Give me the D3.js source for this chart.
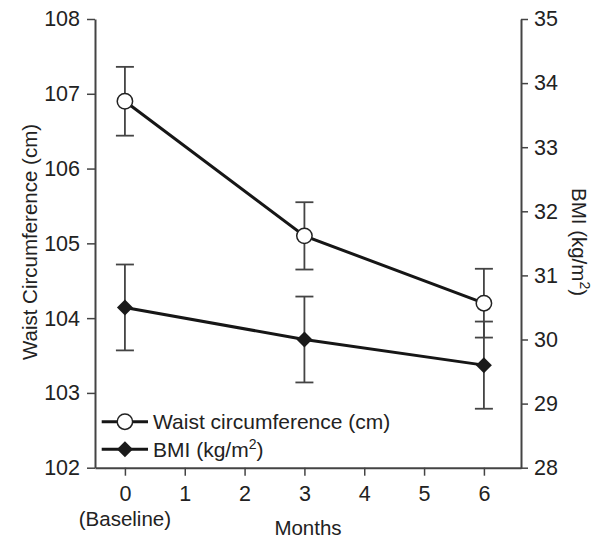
<!DOCTYPE html>
<html>
<head>
<meta charset="utf-8">
<script src="https://cdn.jsdelivr.net/npm/d3@7"></script>
<style>
  body { margin: 0; background: #fff; }
  svg text { font-family: "Liberation Sans", Arial, Helvetica, sans-serif; fill: #222; }
</style>
</head>
<body>
<svg id="chart" width="599" height="540"></svg>
<script>
// data
var months = [0, 3, 6];
var waist = [106.9, 105.1, 104.2];
var waistErr = [0.46, 0.45, 0.46];
var bmi = [30.5, 30.0, 29.6];
var bmiErr = [0.67, 0.67, 0.68];
var xTicks = [0, 1, 2, 3, 4, 5, 6];
var waistTicks = [102, 103, 104, 105, 106, 107, 108];
var bmiTicks = [28, 29, 30, 31, 32, 33, 34, 35];

var svg = d3.select("#chart");
var axisColor = "#444";
var tickFont = 21.5;
var labelFont = 20.5;
var legendFont = 21;

// scales
var x = d3.scaleLinear().domain([-0.5, 6.62]).range([95, 521]);
var yL = d3.scaleLinear().domain([102, 108]).range([467.7, 19]);
var yR = d3.scaleLinear().domain([28, 35]).range([467.7, 19]);

// axes
var xAxis = d3.axisBottom(x).tickValues(xTicks).tickSize(8).tickPadding(10).tickSizeOuter(0).tickFormat(d3.format("d"));
var leftAxis = d3.axisLeft(yL).tickValues(waistTicks).tickSize(8).tickPadding(7).tickSizeOuter(0).tickFormat(d3.format("d"));
var rightAxis = d3.axisRight(yR).tickValues(bmiTicks).tickSize(7).tickPadding(6).tickSizeOuter(0).tickFormat(d3.format("d"));

function styleAxis(g) {
  g.attr("font-family", null).attr("font-size", null);
  g.select(".domain").attr("stroke", axisColor).attr("stroke-width", 2);
  g.selectAll(".tick line").attr("stroke", axisColor).attr("stroke-width", 1.5);
  g.selectAll(".tick text").attr("font-size", tickFont).attr("fill", "#222");
}

svg.append("g")
  .attr("transform", "translate(0," + yL.range()[0] + ")")
  .call(xAxis).call(styleAxis);

svg.append("g")
  .attr("transform", "translate(" + x.range()[0] + ",0)")
  .call(leftAxis).call(styleAxis);

svg.append("g")
  .attr("transform", "translate(" + x.range()[1] + ",0)")
  .call(rightAxis).call(styleAxis);

// axis titles
svg.append("text")
  .attr("x", x(0)).attr("y", 526)
  .attr("text-anchor", "middle").attr("font-size", labelFont)
  .text("(Baseline)");

svg.append("text")
  .attr("x", 308).attr("y", 535)
  .attr("text-anchor", "middle").attr("font-size", labelFont)
  .text("Months");

svg.append("text")
  .attr("transform", "translate(37,242) rotate(-90)")
  .attr("text-anchor", "middle").attr("font-size", labelFont)
  .text("Waist Circumference (cm)");

var rt = svg.append("text")
  .attr("transform", "translate(572,242) rotate(90)")
  .attr("text-anchor", "middle").attr("font-size", labelFont);
rt.append("tspan").text("BMI (kg/m");
rt.append("tspan").attr("font-size", 14).attr("dy", -8).text("2");
rt.append("tspan").attr("dy", 8).text(")");

// series
var series = [
  { vals: waist, err: waistErr, y: yL, type: "circle" },
  { vals: bmi, err: bmiErr, y: yR, type: "diamond" }
];

var diamond = d3.symbol().type(d3.symbolSquare).size(128);

series.forEach(function(s) {
  var pts = months.map(function(m, i) { return { m: m, v: s.vals[i], e: s.err[i] }; });
  var g = svg.append("g");

  // error bars
  var eb = g.selectAll(".eb").data(pts).enter().append("g").attr("class", "eb")
    .attr("stroke", "#444").attr("stroke-width", 1.8);
  eb.append("line")
    .attr("x1", function(d) { return x(d.m); }).attr("x2", function(d) { return x(d.m); })
    .attr("y1", function(d) { return s.y(d.v + d.e); }).attr("y2", function(d) { return s.y(d.v - d.e); });
  eb.append("line")
    .attr("x1", function(d) { return x(d.m) - 9; }).attr("x2", function(d) { return x(d.m) + 9; })
    .attr("y1", function(d) { return s.y(d.v + d.e); }).attr("y2", function(d) { return s.y(d.v + d.e); });
  eb.append("line")
    .attr("x1", function(d) { return x(d.m) - 9; }).attr("x2", function(d) { return x(d.m) + 9; })
    .attr("y1", function(d) { return s.y(d.v - d.e); }).attr("y2", function(d) { return s.y(d.v - d.e); });

  // line
  g.append("path")
    .datum(pts)
    .attr("fill", "none").attr("stroke", "#161616").attr("stroke-width", 3)
    .attr("d", d3.line().x(function(d) { return x(d.m); }).y(function(d) { return s.y(d.v); }));

  // markers
  if (s.type === "circle") {
    g.selectAll(".mk").data(pts).enter().append("circle")
      .attr("cx", function(d) { return x(d.m); }).attr("cy", function(d) { return s.y(d.v); })
      .attr("r", 7.7).attr("fill", "#fff").attr("stroke", "#222").attr("stroke-width", 1.5);
  } else {
    g.selectAll(".mk").data(pts).enter().append("path")
      .attr("d", diamond)
      .attr("transform", function(d) { return "translate(" + x(d.m) + "," + s.y(d.v) + ") rotate(45)"; })
      .attr("fill", "#1a1a1a");
  }
});

// legend
var legend = svg.append("g");
var legendRows = [
  { y: 421.7, type: "circle", label: "Waist circumference (cm)" },
  { y: 449.3, type: "diamond", label: "BMI (kg/m" }
];
legendRows.forEach(function(r) {
  legend.append("line")
    .attr("x1", 101.7).attr("x2", 148).attr("y1", r.y).attr("y2", r.y)
    .attr("stroke", "#161616").attr("stroke-width", 3);
  if (r.type === "circle") {
    legend.append("circle").attr("cx", x(0)).attr("cy", r.y).attr("r", 7.7)
      .attr("fill", "#fff").attr("stroke", "#222").attr("stroke-width", 1.5);
  } else {
    legend.append("path").attr("d", diamond)
      .attr("transform", "translate(" + x(0) + "," + r.y + ") rotate(45)")
      .attr("fill", "#1a1a1a");
  }
  var t = legend.append("text").attr("x", 153).attr("y", r.y).attr("dy", "0.36em")
    .attr("font-size", legendFont).text(r.label);
  if (r.type === "diamond") {
    t.append("tspan").attr("font-size", 14).attr("dy", -8).text("2");
    t.append("tspan").attr("dy", 8).text(")");
  }
});
</script>
</body>
</html>
